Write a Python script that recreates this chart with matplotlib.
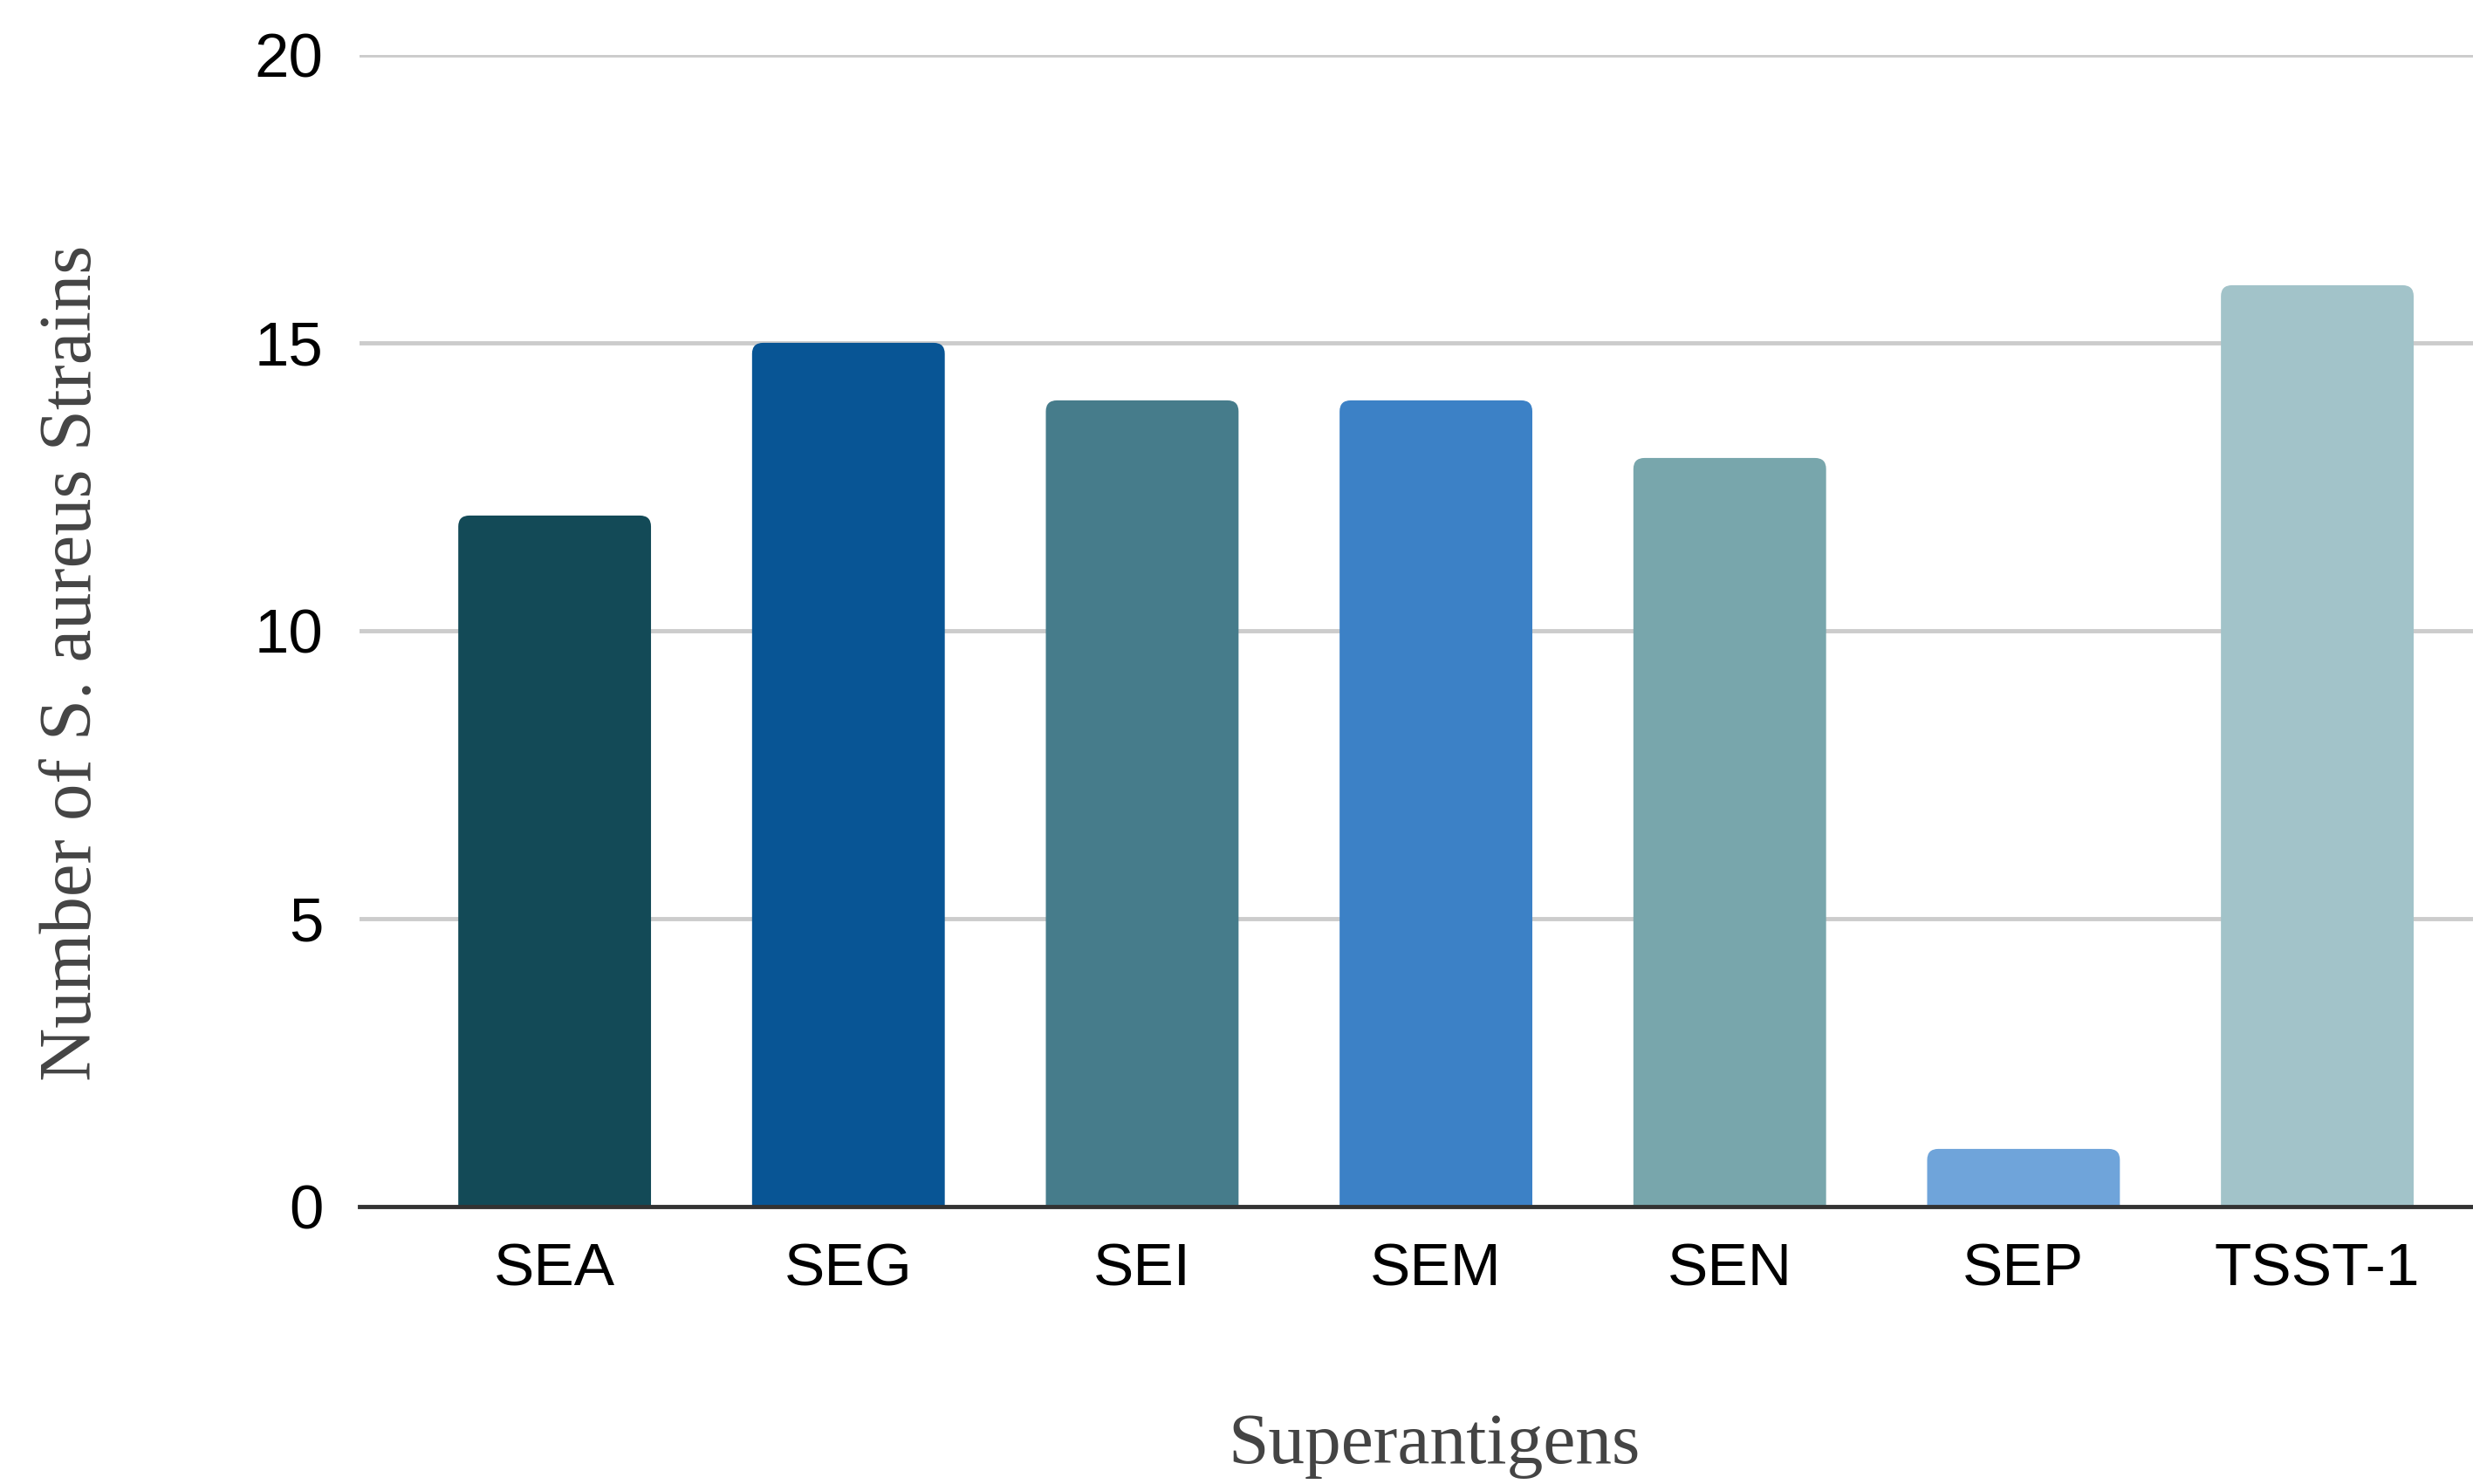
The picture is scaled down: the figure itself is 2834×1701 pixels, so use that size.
import matplotlib
matplotlib.use("Agg")
import matplotlib.pyplot as plt
from matplotlib.patches import FancyBboxPatch

categories = ["SEA", "SEG", "SEI", "SEM", "SEN", "SEP", "TSST-1"]
values = [12, 15, 14, 14, 13, 1, 16]
colors = ["#134a57", "#085595", "#467c8b", "#3c81c6", "#78a6ac", "#6fa4da", "#a2c3c9"]
yticks = [0, 5, 10, 15, 20]

fig = plt.figure(figsize=(28.34, 17.01), dpi=100)
ax = fig.add_axes([0.1454, 0.187, 0.8546, 0.776])

x = list(range(len(categories)))
bars = ax.bar(x, values, width=0.656, color=colors, zorder=2)

ax.set_xlim(-0.664, 6.53)
ax.set_ylim(0, 20)

# round top corners: replace each rectangle by a rounded box of the same extent
rx = 0.038
ry = 0.19
for rect in bars.patches:
    x0, w = rect.get_x(), rect.get_width()
    h = rect.get_height()
    fc = rect.get_facecolor()
    rect.set_visible(False)
    p = FancyBboxPatch((x0, -1.0), w, h + 1.0,
                       boxstyle=f"round,pad=0,rounding_size={rx}",
                       mutation_aspect=ry / rx, facecolor=fc, edgecolor="none", zorder=2)
    ax.add_patch(p)

ax.set_yticks(yticks)
ax.set_yticklabels([str(v) for v in yticks], fontsize=51, family="Liberation Sans", color="black")
ax.set_xticks(x)
ax.set_xticklabels(categories, fontsize=50, family="Liberation Sans", color="black")
ax.tick_params(axis="both", length=0)
ax.tick_params(axis="y", pad=30)
ax.tick_params(axis="x", pad=29)

ax.yaxis.grid(True, color="#cccccc", linewidth=3.5, zorder=0)
ax.set_axisbelow(True)
for s in ["top", "right", "left"]:
    ax.spines[s].set_visible(False)
ax.spines["bottom"].set_color("#333333")
ax.spines["bottom"].set_linewidth(3.5)
ax.spines["bottom"].set_zorder(3)

fig.text(0.0296, 0.553, "Number of S. aureus Strains", rotation=90, ha="center", va="center",
         fontsize=61, family="Liberation Serif", color="#444444")
fig.text(0.58, 0.026, "Superantigens", ha="center", va="center",
         fontsize=60, family="Liberation Serif", color="#444444")

fig.savefig("out.png", dpi=100, facecolor="white")
